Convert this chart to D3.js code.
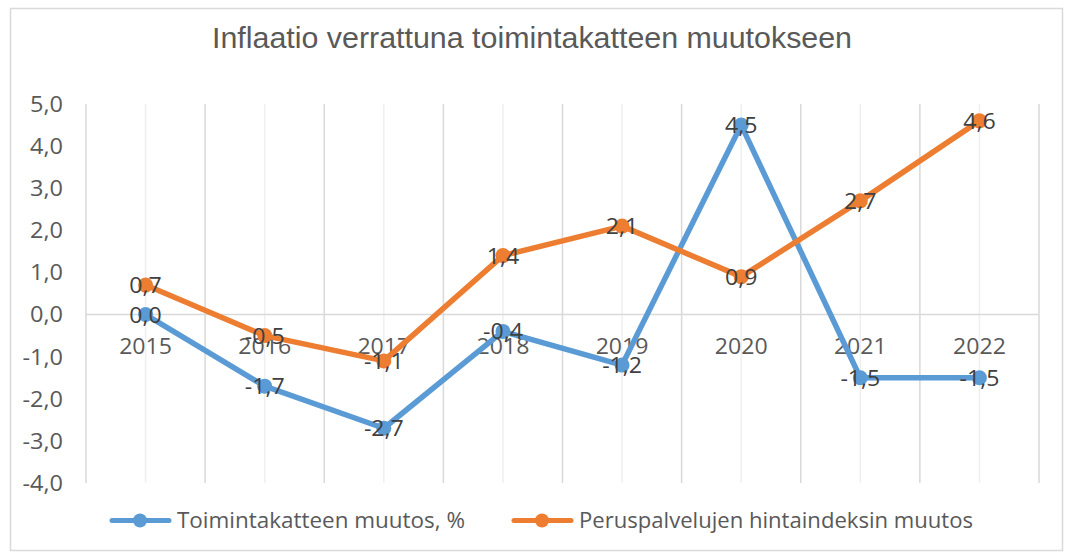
<!DOCTYPE html>
<html><head><meta charset="utf-8">
<script src="https://cdn.jsdelivr.net/npm/d3@7"></script>
<style>
html,body{margin:0;padding:0;background:#fff;}
svg text{font-family:"Open Sans","Liberation Sans",Arial,sans-serif;}
</style></head>
<body><svg id="c" width="1065" height="552"></svg>
<script>
const years = ["2015","2016","2017","2018","2019","2020","2021","2022"];
const toimintakate = [0.0,-1.7,-2.7,-0.4,-1.2,4.5,-1.5,-1.5];
const hintaindeksi = [0.7,-0.5,-1.1,1.4,2.1,0.9,2.7,4.6];
const yTicks = [-4,-3,-2,-1,0,1,2,3,4,5];
const seriesNames = ["Toimintakatteen muutos, %","Peruspalvelujen hintaindeksin muutos"];
const colors = ["#5B9BD5","#ED7D31"];
const title = "Inflaatio verrattuna toimintakatteen muutokseen";

(function(){
const svg = d3.select("#c");
const fmt = v => d3.format(".1f")(v).replace(".",",").replace("−","-");
const stretch = (sel, f) => sel.each(function(){
  const w = this.getComputedTextLength();
  d3.select(this).attr("textLength", w*f).attr("lengthAdjust","spacingAndGlyphs");
});

svg.append("rect").attr("x",10.5).attr("y",8.5).attr("width",1052).attr("height",542)
  .attr("fill","#fff").attr("stroke","#d9d9d9").attr("stroke-width",1.5);

const pL=86, pR=1039, pT=104, pB=483;
const x = d3.scaleBand().domain(years).range([pL,pR]).padding(0);
const y = d3.scaleLinear().domain([-4,5]).range([pB,pT]);
const cx = d => x(d)+x.bandwidth()/2;

const g = svg.append("g");
g.selectAll(".cg").data(years).enter().append("line")
  .attr("x1",cx).attr("x2",cx)
  .attr("y1",pT).attr("y2",pB).attr("stroke","#efefef").attr("stroke-width",1.5);
const bounds = years.map(d=>x(d)).concat([pR]);
g.selectAll(".bg").data(bounds).enter().append("line")
  .attr("x1",d=>d).attr("x2",d=>d).attr("y1",pT).attr("y2",pB)
  .attr("stroke","#d9d9d9").attr("stroke-width",1.5);
g.append("line").attr("x1",pL).attr("x2",pR).attr("y1",y(0)).attr("y2",y(0))
  .attr("stroke","#d9d9d9").attr("stroke-width",1.5);

const yAxis = d3.axisLeft(y).tickValues(yTicks).tickFormat(fmt).tickSize(0).tickPadding(0);
const ya = svg.append("g").attr("transform",`translate(${63},0)`).call(yAxis);
ya.select(".domain").remove();
ya.selectAll("text").attr("font-size",21).attr("fill","#595959")
  .attr("font-family",null).attr("dy","0.35em").call(stretch,1.12);

const xAxis = d3.axisBottom(x).tickSize(0).tickPadding(0);
const xa = svg.append("g").attr("transform",`translate(0,${y(0)})`).call(xAxis);
xa.select(".domain").remove();
xa.selectAll("text").attr("font-size",21).attr("fill","#595959")
  .attr("font-family",null).attr("y",39).attr("dy",null).call(stretch,1.1);

svg.append("text").attr("x",532).attr("y",48).attr("text-anchor","middle")
  .attr("font-size",29).attr("fill","#595959")
  .style("font-family",'"Liberation Sans",Arial,sans-serif')
  .attr("textLength",640).attr("lengthAdjust","spacingAndGlyphs")
  .text(title);

const series = [toimintakate, hintaindeksi];
const line = d3.line().x((d,i)=>cx(years[i])).y(d=>y(d));
series.forEach((s,k)=>{
  svg.append("path").datum(s).attr("d",line).attr("fill","none")
    .attr("stroke",colors[k]).attr("stroke-width",5.5).attr("stroke-linejoin","round");
  svg.selectAll(".m"+k).data(s).enter().append("circle")
    .attr("cx",(d,i)=>cx(years[i])).attr("cy",d=>y(d)).attr("r",7.5)
    .attr("fill",colors[k]);
});
series.forEach((s,k)=>{
  svg.selectAll(".l"+k).data(s).enter().append("text")
    .attr("x",(d,i)=>cx(years[i])).attr("y",d=>y(d)+8)
    .attr("text-anchor","middle").attr("font-size",21).attr("fill","#404040")
    .text(d=>fmt(d)).call(stretch,1.1);
});

const legX = [110, 512];
const legend = svg.append("g");
seriesNames.forEach((n,k)=>{
  const lx = legX[k], ly = 520.5;
  legend.append("line").attr("x1",lx+2).attr("x2",lx+59).attr("y1",ly).attr("y2",ly)
    .attr("stroke",colors[k]).attr("stroke-width",5).attr("stroke-linecap","round");
  legend.append("circle").attr("cx",lx+30).attr("cy",ly).attr("r",7).attr("fill",colors[k]);
  legend.append("text").attr("x",lx+67).attr("y",ly+7.5).attr("font-size",21).attr("fill","#595959")
    .text(n).attr("textLength", k===0 ? 288 : 394).attr("lengthAdjust","spacingAndGlyphs");
});
})();
</script></body></html>
